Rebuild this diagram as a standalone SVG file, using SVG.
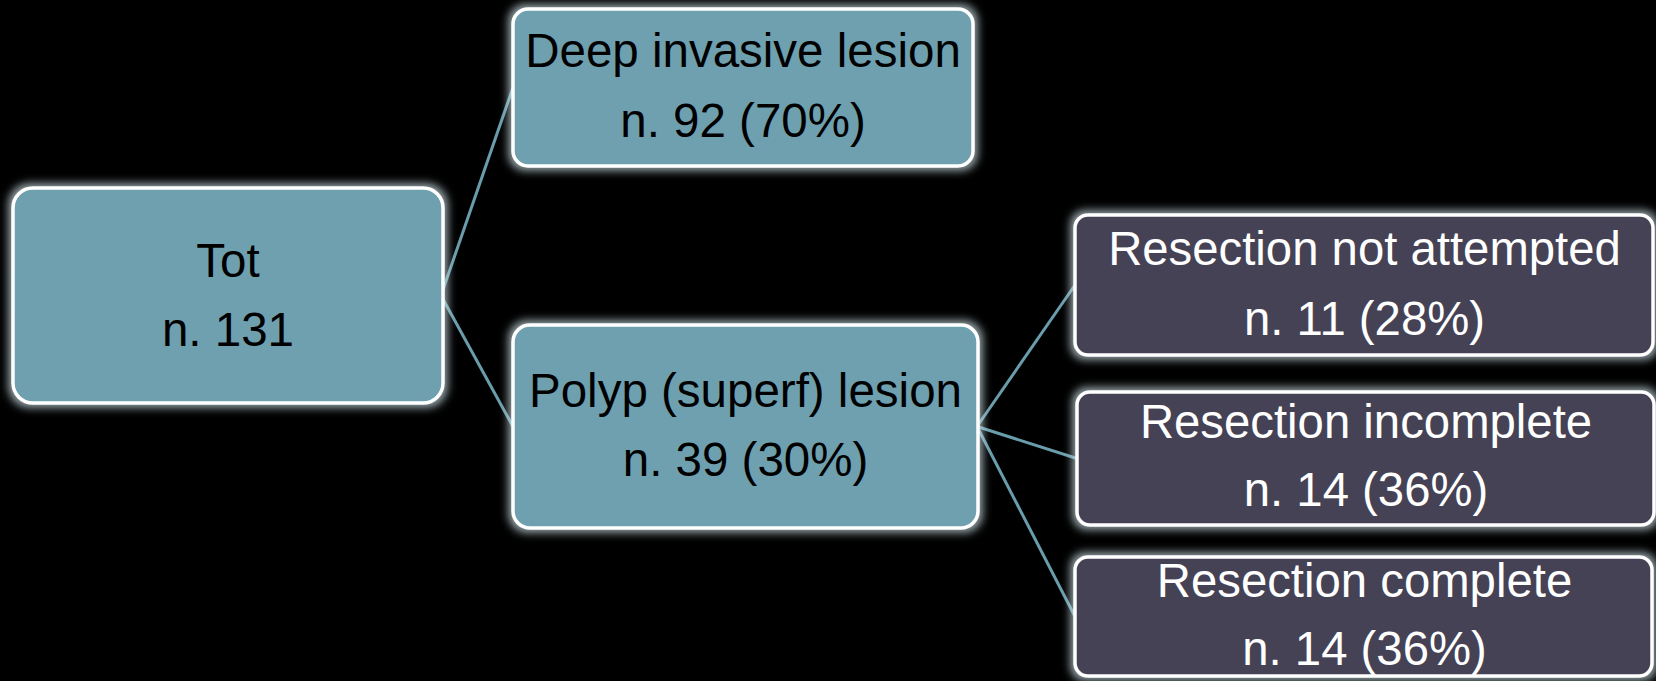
<svg xmlns="http://www.w3.org/2000/svg" width="1656" height="681" viewBox="0 0 1656 681">
<defs>
<filter id="glow" x="-10%" y="-20%" width="120%" height="140%">
<feMorphology in="SourceAlpha" operator="dilate" radius="3" result="d"/>
<feGaussianBlur in="d" stdDeviation="4" result="b"/>
<feFlood flood-color="#c9dde3" flood-opacity="0.75"/>
<feComposite in2="b" operator="in" result="g"/>
<feMerge><feMergeNode in="g"/><feMergeNode in="SourceGraphic"/></feMerge>
</filter>
</defs>
<style>
.teal{fill:#6ea0b0;stroke:#ffffff;stroke-width:3.5;filter:url(#glow)}
.dark{fill:#454355;stroke:#ffffff;stroke-width:3.5;filter:url(#glow)}
.tb{font-family:"Liberation Sans",Arial,sans-serif;font-size:47.5px;fill:#000;text-anchor:middle}
.tw{font-family:"Liberation Sans",Arial,sans-serif;font-size:47.3px;fill:#fff;text-anchor:middle}
.conn{stroke:#6a9dac;stroke-width:3;fill:none}
</style>
<rect width="1656" height="681" fill="#000"/>
<g id="connectors">
<path class="conn" d="M441,295.5 L513,87.5"/>
<path class="conn" d="M441,295.5 L513,426.5"/>
<path class="conn" d="M977,426.5 L1075,285"/>
<path class="conn" d="M977,426.5 L1077,458.5"/>
<path class="conn" d="M977,426.5 L1075,616.5"/>
</g>
<g id="node-tot">
<rect class="teal" x="13" y="188" width="430" height="215" rx="20"/>
<text class="tb" x="228" y="277">Tot</text>
<text class="tb" x="228" y="346">n. 131</text>
</g>
<g id="node-deep">
<rect class="teal" x="513" y="9" width="460" height="157" rx="15"/>
<text class="tb" x="743" y="67">Deep invasive lesion</text>
<text class="tb" x="743" y="137">n. 92 (70%)</text>
</g>
<g id="node-polyp">
<rect class="teal" x="513" y="325" width="465" height="203" rx="17"/>
<text class="tb" x="745.5" y="407">Polyp (superf) lesion</text>
<text class="tb" x="745.5" y="476">n. 39 (30%)</text>
</g>
<g id="node-not-attempted">
<rect class="dark" x="1075" y="215" width="578" height="140" rx="13"/>
<text class="tw" x="1364.5" y="265">Resection not attempted</text>
<text class="tw" x="1364.5" y="335">n. 11 (28%)</text>
</g>
<g id="node-incomplete">
<rect class="dark" x="1077" y="392" width="577" height="133" rx="13"/>
<text class="tw" x="1366" y="438">Resection incomplete</text>
<text class="tw" x="1366" y="506">n. 14 (36%)</text>
</g>
<g id="node-complete">
<rect class="dark" x="1075" y="557" width="577" height="119" rx="13"/>
<text class="tw" x="1364.5" y="597">Resection complete</text>
<text class="tw" x="1364.5" y="665">n. 14 (36%)</text>
</g>
</svg>
